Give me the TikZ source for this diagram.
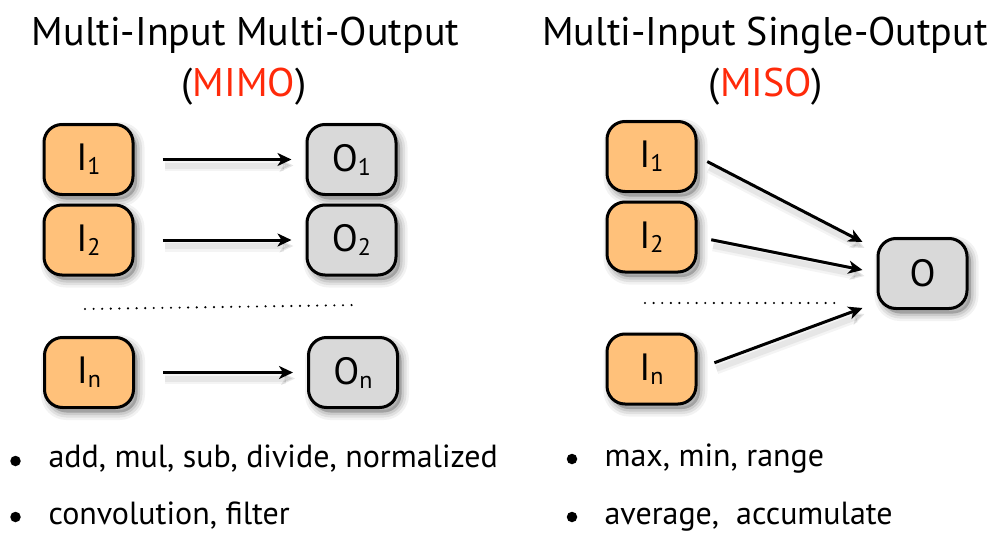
\documentclass[tikz,border=0pt]{standalone}
\usepackage{fontspec}
\setmainfont{PT Sans}
\usetikzlibrary{arrows.meta,shadows,calc}
\definecolor{boxorange}{HTML}{FFC17A}
\definecolor{boxgray}{HTML}{D9D9D9}
\definecolor{acronym}{HTML}{FF2A0A}
\newcommand\lowidx[1]{\raisebox{-4pt}{\fontsize{24}{24}\selectfont #1}}
\tikzset{
  x=1pt, y=-1pt,
  softshadow/.style={
    general shadow={shadow xshift=4pt, shadow yshift=-5pt, fill=black, draw=black, line width=15pt, opacity=0.05},
    general shadow={shadow xshift=4pt, shadow yshift=-5pt, fill=black, draw=black, line width=10pt, opacity=0.07},
    general shadow={shadow xshift=4pt, shadow yshift=-5pt, fill=black, draw=black, line width=5pt, opacity=0.09}},
  lineshadow/.style={
    general shadow={shadow xshift=2pt, shadow yshift=-6pt, draw=black, line width=11pt, opacity=0.045},
    general shadow={shadow xshift=2pt, shadow yshift=-6pt, draw=black, line width=6pt, opacity=0.055}},
  box/.style={draw=black, line width=3pt, rounded corners=18pt,
    minimum width=89pt, minimum height=70pt, inner sep=0pt,
    font=\fontsize{38}{38}\selectfont, softshadow},
  inbox/.style={box, fill=boxorange},
  outbox/.style={box, fill=boxgray},
  flow/.style={line width=3pt, -{Stealth[length=14pt, width=13pt, inset=4pt]}, lineshadow},
  dotline/.style={line width=2.4pt, line cap=round, dash pattern=on 0pt off 8.6pt},
  title/.style={anchor=base, font=\fontsize{40}{40}\selectfont},
  item/.style={anchor=base west, font=\fontsize{32}{32}\selectfont},
  dotbullet/.style={circle, fill=black, inner sep=0pt, minimum size=10.5pt}
}
\begin{document}
\begin{tikzpicture}
\fill[white] (0,0) rectangle (991,533);
\useasboundingbox (0,0) rectangle (991,533);

% ---- headings
\node[title] (t1) at (245.5,45) {Multi-Input Multi-Output};
\node[title] (t1b) at (244,96) {(\textcolor{acronym}{MIMO})};
\node[title] (t2) at (765,45) {Multi-Input Single-Output};
\node[title] (t2b) at (766,96) {(\textcolor{acronym}{MISO})};

% ---- multi-input multi-output
\node[inbox]  (a1) at (88.5,159.5) {I\lowidx{1}};
\node[inbox]  (a2) at (88.5,240)   {I\lowidx{2}};
\node[inbox]  (an) at (89,372.5)   {I\lowidx{n}};
\node[outbox] (o1) at (351.5,159.5) {O\lowidx{1}};
\node[outbox] (o2) at (351.5,240)   {O\lowidx{2}};
\node[outbox] (on) at (353,372.5)   {O\lowidx{n}};

\draw[flow, shorten <=28pt, shorten >=14pt] (a1.east) -- (o1.west);
\draw[flow, shorten <=28pt, shorten >=14pt] (a2.east) -- (o2.west);
\draw[flow, shorten <=28pt, shorten >=14pt] (an.east) -- (on.west);

\coordinate (d1a) at (85,309);
\coordinate (d1b) at (358,305);
\draw[dotline] (d1a) -- (d1b);

% ---- multi-input single-output
\node[inbox]  (b1) at (651.5,156.5) {I\lowidx{1}};
\node[inbox]  (b2) at (651.5,237)   {I\lowidx{2}};
\node[inbox]  (bn) at (651.5,369)   {I\lowidx{n}};
\node[outbox] (so) at (922.5,273.5) {O};

\coordinate (s1) at ($(so.west)+(-14,-31.5)$);
\coordinate (s2) at ($(so.west)+(-14,-3.5)$);
\coordinate (sn) at ($(so.west)+(-14,34.5)$);
\draw[flow, shorten <=11pt] (b1.east) -- (s1);
\draw[flow, shorten <=14pt] (b2.east) -- (s2);
\draw[flow, shorten <=18pt] (bn.east) -- (sn);

\coordinate (d2a) at (645,303);
\coordinate (d2b) at (840,303);
\draw[dotline] (d2a) -- (d2b);

% ---- operation lists
\node[dotbullet] (p1) at (15.5,461) {};
\node[item] (l1) at (45,467) {add, mul, sub, divide, normalized};
\node[dotbullet] (p2) at (15.5,517) {};
\node[item] (l2) at (45,524) {convolution, filter};
\node[dotbullet] (q1) at (572,459) {};
\node[item] (r1) at (601,466) {max, min, range};
\node[dotbullet] (q2) at (572,517) {};
\node[item] (r2) at (601,524) {average,\ \ accumulate};
\end{tikzpicture}
\end{document}
